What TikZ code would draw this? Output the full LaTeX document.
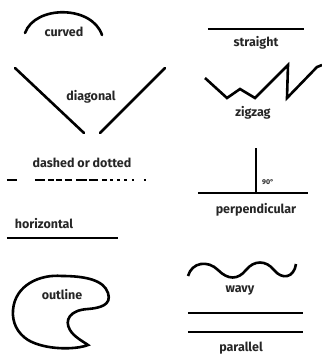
\documentclass[tikz,border=0pt]{standalone}
\usepackage{fontspec}
\setmainfont{Fira Sans}
\begin{document}
\begin{tikzpicture}[x=1pt,y=-1pt,
  ln/.style={line width=2.6pt,line cap=round,line join=miter},
  lbl/.style={font=\fontsize{12.5}{13}\selectfont\bfseries,text=black!85,inner sep=1pt}]
\useasboundingbox (0,0) rectangle (322,360);
% curved
\coordinate (c1) at (25,33);
\coordinate (c2) at (102,35);
\draw[ln] (c1) .. controls (35,5) and (92,5) .. (c2);
\node[lbl] (curved) at (64,32) {curved};
% diagonal
\coordinate (d1) at (15,68);
\coordinate (d2) at (84,133);
\coordinate (d3) at (100,133);
\coordinate (d4) at (165,68);
\draw[ln] (d1) -- (d2);
\draw[ln] (d3) -- (d4);
\node[lbl] (diagonal) at (91,97) {diagonal};
% straight
\coordinate (s1) at (208,29);
\coordinate (s2) at (304,29);
\draw[ln,line cap=butt] (s1) -- (s2);
\node[lbl] (straight) at (256,43) {straight};
% zigzag
\coordinate (z1) at (205,78);
\coordinate (z2) at (322,65);
\draw[ln,line cap=butt] (z1) -- (227,98) -- (240,89) -- (255,98) -- (288,65) -- (287,98) -- (317,67) -- (z2);
\node[lbl] (zigzag) at (253,113) {zigzag};
% dashed or dotted
\node[lbl] (dashed) at (82,163) {dashed or dotted};
\foreach \a/\b in {7/17,35/45,48/54,56/62,65/72,76/87,89/98,102/107,110/113,117/120,124/127,132/134,144/146}
  \draw[line width=2.6pt] (\a,180) -- (\b,180);
% horizontal
\node[lbl] (horizontal) at (44,224) {horizontal};
\coordinate (h1) at (7,238);
\coordinate (h2) at (118,238);
\draw[ln,line cap=butt] (h1) -- (h2);
% perpendicular
\coordinate (p1) at (256,148);
\coordinate (p2) at (256,193);
\coordinate (p3) at (198,193);
\coordinate (p4) at (308,193);
\draw[ln,line cap=butt] (p1) -- (p2);
\draw[ln,line cap=butt] (p3) -- (p4);
\node[font=\fontsize{7}{8}\selectfont\bfseries,text=black!85] (ninety) at (268,182) {90°};
\node[lbl] (perp) at (256,210) {perpendicular};
% outline
\draw[ln,line cap=round] (13,310) .. controls (15,285) and (40,274) .. (62,276)
  .. controls (85,276) and (104,280) .. (108,293)
  .. controls (112,305) and (100,308) .. (88,309)
  .. controls (70,310) and (64,320) .. (70,330)
  .. controls (74,337) and (84,342) .. (88,345)
  .. controls (75,350) and (45,350) .. (28,340)
  .. controls (17,333) and (12,322) .. (13,310) -- cycle;
\node[lbl] (outline) at (62,295) {outline};
% wavy
\coordinate (w1) at (188,276);
\coordinate (w2) at (296,264);
\draw[ln,line cap=butt] (w1) .. controls (192,262) and (208,260) .. (218,270)
  .. controls (228,280) and (238,280) .. (246,270)
  .. controls (254,260) and (266,260) .. (274,270)
  .. controls (282,280) and (294,278) .. (w2);
\node[lbl] (wavy) at (240,290) {wavy};
% parallel
\coordinate (q1) at (188,313);
\coordinate (q2) at (303,313);
\coordinate (q3) at (188,332);
\coordinate (q4) at (303,332);
\draw[ln,line cap=butt] (q1) -- (q2);
\draw[ln,line cap=butt] (q3) -- (q4);
\node[lbl] (parallel) at (241,348) {parallel};
\end{tikzpicture}
\end{document}
